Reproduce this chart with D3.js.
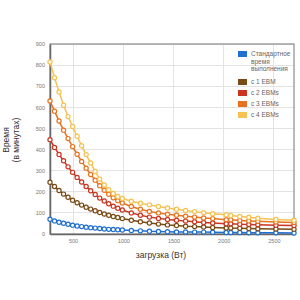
<!DOCTYPE html>
<html><head><meta charset="utf-8">
<script src="https://cdn.jsdelivr.net/npm/d3@7"></script>
<style>body{margin:0;background:#fff}svg{display:block}</style>
</head><body><svg id="c" width="300" height="300"></svg>
<script>
const loads = [270,315,360,405,450,495,540,585,630,675,720,765,810,855,900,945,990,1080,1170,1260,1350,1440,1530,1620,1710,1800,1890,2025,2070,2160,2250,2340,2520,2700];
const standard = [70,62,56,51,46,42,38,35,32,30,28,26,24,22,21,20,19,17,15,13,12,11,10,10,9,9,8,7,7,7,6,6,6,5];
const ebm1 = [245,225,206,189,174,160,148,137,127,118,110,102,95,89,83,78,73,65,58,52,47,43,40,37,35,33,31,29,28,27,26,25,24,23];
const ebm2 = [447,410,377,347,318,292,268,246,225,205,187,170,156,143,132,122,114,100,89,80,74,69,65,61,58,55,52,49,48,46,45,44,42,40];
const ebm3 = [630,582,535,492,452,414,378,344,312,282,255,229,207,188,172,158,147,130,117,107,100,94,89,84,80,76,73,68,67,64,62,60,57,54];
const ebm4 = [815,740,673,610,556,509,463,418,376,336,296,260,232,210,192,178,168,155,146,138,130,123,117,111,106,101,96,91,88,83,79,75,69,65];
const seriesNames = [["Стандартное","время","выполнения"],["с 1 EBM"],["с 2 EBMs"],["с 3 EBMs"],["с 4 EBMs"]];
const seriesColors = ["#1f6fd1","#7a4a14","#c9351f","#e8731f","#f5c251"];
const xTicks = [500,1000,1500,2000,2500];
const yTicks = [0,100,200,300,400,500,600,700,800,900];
const xTitle = "загрузка (Вт)";
const yTitle = ["Время","(в минутах)"];

const svg = d3.select("#c");
const L=50,R=294,T=44,B=234;
const x = d3.scaleLinear().domain([270,2700]).range([L,R]);
const y = d3.scaleLinear().domain([0,900]).range([B,T]);
const font = "Arial, 'Liberation Sans', sans-serif";

svg.append("g").selectAll("line").data(xTicks).join("line")
  .attr("x1",d=>x(d)).attr("x2",d=>x(d)).attr("y1",T).attr("y2",B)
  .attr("stroke","#e3e3e3").attr("stroke-width",1).attr("shape-rendering","crispEdges");
svg.append("g").selectAll("line").data(yTicks).join("line")
  .attr("x1",L).attr("x2",R).attr("y1",d=>y(d)).attr("y2",d=>y(d))
  .attr("stroke","#e3e3e3").attr("stroke-width",1).attr("shape-rendering","crispEdges");

svg.append("rect").attr("x",L).attr("y",T).attr("width",R-L).attr("height",B-T)
  .attr("fill","none").attr("stroke","#8a8a8a").attr("stroke-width",1.2);

const ya = svg.append("g").attr("transform",`translate(${L},0)`)
  .call(d3.axisLeft(y).tickValues(yTicks).tickFormat(d3.format("d")).tickSize(0).tickPadding(5));
const xa = svg.append("g").attr("transform",`translate(0,${B})`)
  .call(d3.axisBottom(x).tickValues(xTicks).tickFormat(d3.format("d")).tickSize(0).tickPadding(5));
[ya,xa].forEach(a=>{a.select(".domain").attr("stroke","#666").attr("stroke-width",1.5);
  a.selectAll("text").attr("font-family",font).attr("font-size",5.5).attr("fill","#777");});

const all=[standard,ebm1,ebm2,ebm3,ebm4];
const line=d3.line().x((d,i)=>x(loads[i])).y(d=>y(d));
all.forEach((s,k)=>{
  const g=svg.append("g");
  g.append("path").datum(s).attr("d",line).attr("fill","none").attr("stroke",seriesColors[k]).attr("stroke-width",1.5);
  g.selectAll("circle").data(s).join("circle").attr("cx",(d,i)=>x(loads[i])).attr("cy",d=>y(d))
   .attr("r",2.1).attr("fill","#fff").attr("stroke",seriesColors[k]).attr("stroke-width",1.2);
});

const legY=[51,79,90,101,112];
seriesNames.forEach((n,k)=>{
  svg.append("rect").attr("x",238).attr("y",legY[k]).attr("width",9).attr("height",6).attr("fill",seriesColors[k]);
  n.forEach((t,j)=>svg.append("text").attr("x",251).attr("y",legY[k]+5+j*7.5).text(t)
    .attr("font-family",font).attr("font-size",6.5).attr("fill","#666"));
});

svg.append("text").attr("x",161).attr("y",258).attr("text-anchor","middle").text(xTitle)
  .attr("font-family",font).attr("font-size",8.5).attr("fill","#333");
yTitle.forEach((t,j)=>svg.append("text").attr("transform",`translate(${9+j*10},140) rotate(-90)`)
  .attr("text-anchor","middle").text(t)
  .attr("font-family",font).attr("font-size",8.5).attr("fill","#333"));
</script></body></html>
